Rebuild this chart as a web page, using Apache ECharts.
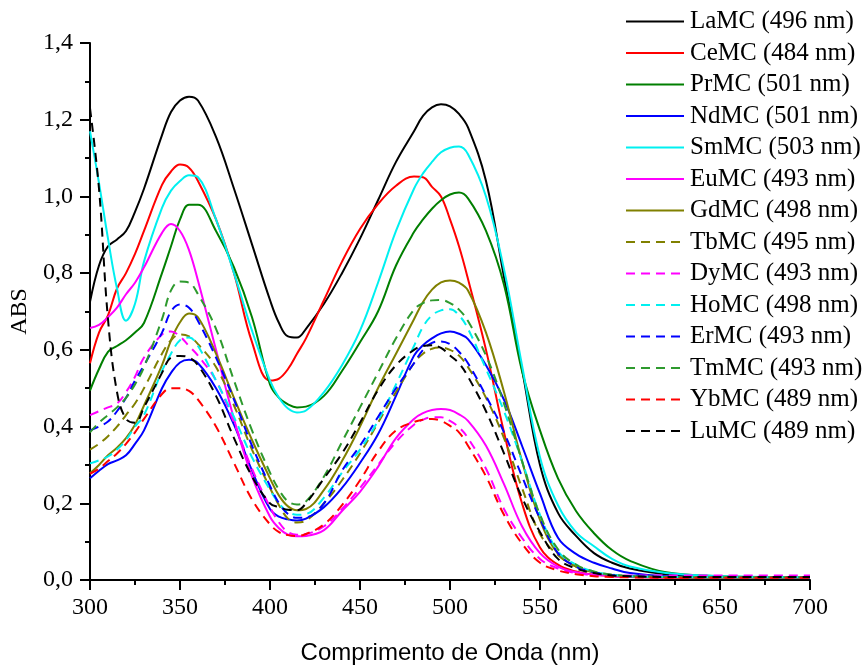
<!DOCTYPE html>
<html>
<head>
<meta charset="utf-8">
<script src="https://cdn.jsdelivr.net/npm/echarts@6/dist/echarts.min.js"></script>
<style>
  html, body { margin: 0; padding: 0; background: #ffffff; }
  #chart { width: 865px; height: 670px; }
</style>
</head>
<body>
<div id="chart"></div>
<script>
// Wavelength grid (nm) shared by every spectrum
const wavelengths = [300,305,310,315,320,325,330,340,345,350,355,360,370,380,390,400,405,410,415,420,430,440,450,460,470,480,485,490,495,500,505,510,520,530,540,550,560,570,580,590,600,620,650,700];

// Absorbance of each complex on the grid above
const LaMC = [0.725,0.82,0.87,0.888,0.91,0.96,1.02,1.16,1.22,1.25,1.26,1.25,1.155,1.02,0.875,0.73,0.67,0.635,0.632,0.655,0.72,0.80,0.89,0.99,1.09,1.17,1.21,1.232,1.24,1.235,1.215,1.18,1.04,0.79,0.55,0.30,0.175,0.115,0.07,0.045,0.03,0.015,0.008,0.007];
const CeMC = [0.565,0.645,0.69,0.76,0.80,0.85,0.91,1.03,1.065,1.083,1.075,1.04,0.94,0.80,0.62,0.52,0.525,0.55,0.59,0.63,0.73,0.83,0.915,0.98,1.028,1.052,1.05,1.025,1.0,0.94,0.87,0.785,0.6,0.385,0.2,0.085,0.04,0.022,0.014,0.01,0.008,0.006,0.005,0.005];
const PrMC = [0.494,0.55,0.595,0.61,0.625,0.645,0.67,0.80,0.87,0.94,0.978,0.978,0.91,0.815,0.685,0.51,0.475,0.458,0.45,0.452,0.48,0.545,0.62,0.70,0.82,0.907,0.94,0.968,0.99,1.005,1.01,0.995,0.91,0.77,0.545,0.39,0.265,0.18,0.122,0.078,0.05,0.02,0.01,0.007];
const NdMC = [0.265,0.285,0.302,0.312,0.325,0.355,0.39,0.5,0.54,0.567,0.574,0.565,0.5,0.405,0.285,0.185,0.165,0.158,0.155,0.16,0.19,0.24,0.305,0.38,0.48,0.585,0.612,0.63,0.643,0.648,0.642,0.628,0.56,0.47,0.35,0.225,0.11,0.068,0.045,0.03,0.018,0.01,0.008,0.007];
const SmMC = [1.17,1.035,0.89,0.76,0.676,0.72,0.83,0.97,1.015,1.04,1.055,1.05,0.94,0.80,0.65,0.52,0.475,0.447,0.437,0.442,0.49,0.56,0.65,0.775,0.91,1.02,1.06,1.09,1.115,1.127,1.13,1.11,1.0,0.81,0.56,0.32,0.195,0.125,0.088,0.055,0.035,0.018,0.01,0.008];
const EuMC = [0.657,0.665,0.685,0.71,0.745,0.775,0.815,0.905,0.928,0.91,0.86,0.78,0.6,0.42,0.27,0.165,0.135,0.118,0.114,0.115,0.13,0.18,0.23,0.295,0.37,0.42,0.435,0.443,0.446,0.443,0.432,0.415,0.35,0.25,0.14,0.07,0.035,0.02,0.014,0.01,0.008,0.007,0.007,0.007];
const GdMC = [0.278,0.3,0.325,0.345,0.37,0.405,0.455,0.56,0.625,0.672,0.695,0.685,0.59,0.475,0.365,0.265,0.22,0.192,0.182,0.185,0.235,0.31,0.4,0.5,0.59,0.68,0.725,0.757,0.776,0.781,0.775,0.755,0.645,0.49,0.31,0.157,0.068,0.035,0.02,0.013,0.01,0.008,0.007,0.007];
const TbMC = [0.34,0.355,0.375,0.4,0.43,0.46,0.5,0.59,0.625,0.64,0.635,0.615,0.555,0.455,0.34,0.24,0.195,0.16,0.15,0.155,0.2,0.26,0.33,0.41,0.49,0.565,0.59,0.603,0.606,0.6,0.585,0.555,0.475,0.37,0.24,0.12,0.065,0.035,0.02,0.013,0.01,0.008,0.007,0.007];
const DyMC = [0.43,0.44,0.45,0.46,0.49,0.53,0.58,0.64,0.648,0.635,0.61,0.585,0.52,0.41,0.29,0.19,0.15,0.125,0.118,0.12,0.14,0.185,0.24,0.3,0.36,0.405,0.418,0.424,0.424,0.415,0.398,0.37,0.29,0.185,0.11,0.055,0.03,0.018,0.013,0.012,0.012,0.012,0.012,0.012];
const HoMC = [0.304,0.312,0.322,0.34,0.365,0.4,0.43,0.545,0.59,0.625,0.632,0.61,0.52,0.425,0.32,0.235,0.2,0.178,0.17,0.172,0.215,0.28,0.34,0.415,0.51,0.61,0.66,0.69,0.703,0.706,0.69,0.655,0.55,0.44,0.31,0.17,0.075,0.04,0.022,0.014,0.01,0.008,0.007,0.007];
const ErMC = [0.39,0.4,0.413,0.44,0.475,0.52,0.56,0.645,0.7,0.718,0.71,0.675,0.58,0.47,0.35,0.245,0.2,0.172,0.162,0.163,0.2,0.285,0.35,0.425,0.5,0.565,0.6,0.618,0.622,0.615,0.595,0.565,0.48,0.385,0.27,0.16,0.07,0.035,0.02,0.013,0.01,0.008,0.007,0.007];
const TmMC = [0.385,0.41,0.43,0.45,0.475,0.51,0.555,0.68,0.755,0.778,0.775,0.745,0.655,0.52,0.39,0.28,0.235,0.205,0.197,0.205,0.27,0.36,0.45,0.54,0.63,0.705,0.722,0.729,0.73,0.722,0.705,0.675,0.585,0.46,0.31,0.17,0.08,0.04,0.022,0.014,0.01,0.008,0.007,0.007];
const YbMC = [0.277,0.29,0.31,0.33,0.355,0.385,0.42,0.485,0.5,0.5,0.493,0.47,0.4,0.305,0.21,0.145,0.125,0.117,0.115,0.12,0.145,0.195,0.26,0.335,0.39,0.412,0.418,0.42,0.415,0.402,0.385,0.35,0.27,0.17,0.095,0.045,0.025,0.015,0.01,0.008,0.007,0.006,0.006,0.006];
const LuMC = [1.23,1.02,0.68,0.49,0.42,0.41,0.45,0.54,0.58,0.584,0.58,0.56,0.48,0.37,0.27,0.2,0.19,0.183,0.182,0.2,0.265,0.33,0.41,0.495,0.56,0.6,0.61,0.612,0.605,0.585,0.565,0.53,0.44,0.33,0.215,0.125,0.055,0.03,0.018,0.012,0.01,0.008,0.008,0.008];

// Legend names (band maximum of each complex)
const names = ['LaMC (496 nm)','CeMC (484 nm)','PrMC (501 nm)','NdMC (501 nm)','SmMC (503 nm)','EuMC (493 nm)','GdMC (498 nm)','TbMC (495 nm)','DyMC (493 nm)','HoMC (498 nm)','ErMC (493 nm)','TmMC (493 nm)','YbMC (489 nm)','LuMC (489 nm)'];
const spectra = [LaMC,CeMC,PrMC,NdMC,SmMC,EuMC,GdMC,TbMC,DyMC,HoMC,ErMC,TmMC,YbMC,LuMC];
const colors = ['#000000','#ff0000','#007f00','#0000ff','#00f0f0','#ff00ff','#808000','#808000','#ff00ff','#00f0f0','#0000ff','#2e9a2e','#ff0000','#000000'];
const dashed = [false,false,false,false,false,false,false,true,true,true,true,true,true,true];

const serif = 'Liberation Serif, Times New Roman, serif';

const series = names.map((n, k) => ({
  name: n,
  type: 'line',
  showSymbol: false,
  symbol: 'none',
  smooth: 0.4,
  lineStyle: { color: colors[k], width: 2, type: dashed[k] ? [9, 6] : 'solid' },
  itemStyle: { color: colors[k] },
  data: wavelengths.map((w, i) => [w, spectra[k][i]])
}));

const chart = echarts.init(document.getElementById('chart'), null, { renderer: 'canvas' });
chart.setOption({
  animation: false,
  backgroundColor: '#ffffff',
  grid: { left: 90, right: 55, top: 43, bottom: 86, containLabel: false },
  legend: {
    orient: 'vertical',
    left: 625,
    top: 9,
    padding: 0,
    itemWidth: 58,
    itemHeight: 14,
    itemGap: 6.5,
    itemStyle: { opacity: 0 },
    textStyle: { fontFamily: serif, fontSize: 25, color: '#000', lineHeight: 24, padding: [0, 0, 0, 1] },
    data: names
  },
  xAxis: {
    type: 'value',
    min: 300, max: 700, interval: 50,
    name: 'Comprimento de Onda (nm)',
    nameLocation: 'middle',
    nameGap: 61,
    nameTextStyle: { fontFamily: 'Liberation Sans, Arial, sans-serif', fontSize: 24, color: '#000' },
    axisLine: { show: true, lineStyle: { color: '#000', width: 2 } },
    axisTick: { show: true, inside: false, length: 10, lineStyle: { color: '#000', width: 2 } },
    minorTick: { show: true, splitNumber: 2, length: 5, lineStyle: { color: '#000', width: 2 } },
    splitLine: { show: false },
    axisLabel: { fontFamily: serif, fontSize: 24, color: '#000', margin: 16 }
  },
  yAxis: {
    type: 'value',
    min: 0, max: 1.4, interval: 0.2,
    name: 'ABS',
    nameLocation: 'middle',
    nameGap: 52,
    nameTextStyle: { fontFamily: serif, fontSize: 24, color: '#000' },
    axisLine: { show: true, lineStyle: { color: '#000', width: 2 } },
    axisTick: { show: true, inside: false, length: 10, lineStyle: { color: '#000', width: 2 } },
    minorTick: { show: true, splitNumber: 2, length: 5, lineStyle: { color: '#000', width: 2 } },
    splitLine: { show: false },
    axisLabel: {
      fontFamily: serif, fontSize: 24, color: '#000', margin: 17,
      formatter: v => v.toFixed(1).replace('.', ',')
    }
  },
  series: series
});
</script>
</body>
</html>
